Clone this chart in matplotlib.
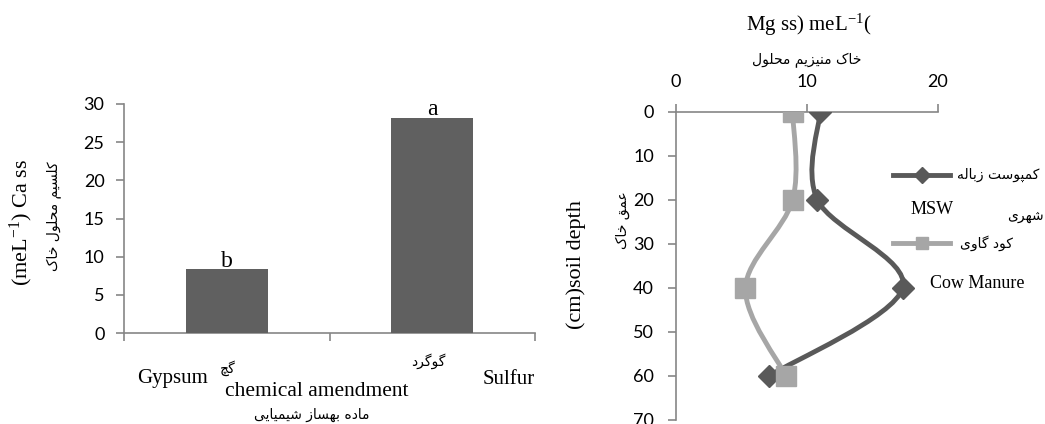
import matplotlib
matplotlib.use("Agg")
import matplotlib.pyplot as plt
from matplotlib.path import Path
from matplotlib.patches import PathPatch
from matplotlib.lines import Line2D

# data
amendments = ["Gypsum", "Sulfur"]
ca_ss = [8.4, 28.2]
letters = ["b", "a"]

depth = [0, 20, 40, 60]
mg_msw = [11.0, 10.8, 17.3, 7.1]
mg_cow = [8.9, 8.9, 5.3, 8.4]

plt.rcParams["mathtext.fontset"] = "custom"
plt.rcParams["mathtext.rm"] = "Liberation Serif"
plt.rcParams["mathtext.it"] = "Liberation Serif"

# persian shaping (matplotlib has no bidi / joining)
FORMS = {
    'ا': ('\uFE8D', '\uFE8E', None, None),
    'ب': ('\uFE8F', '\uFE90', '\uFE91', '\uFE92'),
    'پ': ('\uFB56', '\uFB57', '\uFB58', '\uFB59'),
    'ت': ('\uFE95', '\uFE96', '\uFE97', '\uFE98'),
    'چ': ('\uFB7A', '\uFB7B', '\uFB7C', '\uFB7D'),
    'ح': ('\uFEA1', '\uFEA2', '\uFEA3', '\uFEA4'),
    'خ': ('\uFEA5', '\uFEA6', '\uFEA7', '\uFEA8'),
    'د': ('\uFEA9', '\uFEAA', None, None),
    'ر': ('\uFEAD', '\uFEAE', None, None),
    'ز': ('\uFEAF', '\uFEB0', None, None),
    'س': ('\uFEB1', '\uFEB2', '\uFEB3', '\uFEB4'),
    'ش': ('\uFEB5', '\uFEB6', '\uFEB7', '\uFEB8'),
    'ع': ('\uFEC9', '\uFECA', '\uFECB', '\uFECC'),
    'ق': ('\uFED5', '\uFED6', '\uFED7', '\uFED8'),
    'ک': ('\uFB8E', '\uFB8F', '\uFB90', '\uFB91'),
    'گ': ('\uFB92', '\uFB93', '\uFB94', '\uFB95'),
    'ل': ('\uFEDD', '\uFEDE', '\uFEDF', '\uFEE0'),
    'م': ('\uFEE1', '\uFEE2', '\uFEE3', '\uFEE4'),
    'ن': ('\uFEE5', '\uFEE6', '\uFEE7', '\uFEE8'),
    'و': ('\uFEED', '\uFEEE', None, None),
    'ه': ('\uFEE9', '\uFEEA', '\uFEEB', '\uFEEC'),
    'ی': ('\uFBFC', '\uFBFD', '\uFBFE', '\uFBFF'),
}


def fa(s):
    out = []
    for i, ch in enumerate(s):
        if ch not in FORMS:
            out.append(ch)
            continue
        f = FORMS[ch]
        prev = s[i - 1] if i > 0 else ''
        nxt = s[i + 1] if i + 1 < len(s) else ''
        jp = prev in FORMS and FORMS[prev][2] is not None
        jn = nxt in FORMS and f[2] is not None
        if jp and jn:
            out.append(f[3])
        elif jp:
            out.append(f[1])
        elif jn:
            out.append(f[2])
        else:
            out.append(f[0])
    return ''.join(reversed(out))


def smooth_path(xs, ys):
    # excel style smoothed line (catmull-rom as cubic bezier)
    pts = list(zip(xs, ys))
    n = len(pts)
    verts = [pts[0]]
    codes = [Path.MOVETO]
    for i in range(n - 1):
        p0 = pts[i - 1] if i > 0 else pts[i]
        p1 = pts[i]
        p2 = pts[i + 1]
        p3 = pts[i + 2] if i + 2 < n else pts[i + 1]
        c1 = (p1[0] + (p2[0] - p0[0]) / 6, p1[1] + (p2[1] - p0[1]) / 6)
        c2 = (p2[0] - (p3[0] - p1[0]) / 6, p2[1] - (p3[1] - p1[1]) / 6)
        verts += [c1, c2, p2]
        codes += [Path.CURVE4] * 3
    return Path(verts, codes)


W, H = 1045, 424
serif = "Liberation Serif"
sans = "Lato"
pers = ["DejaVu Sans"]
grid_c = "#868686"
dark = "#595959"
light = "#a6a6a6"

fig = plt.figure(figsize=(W / 100, H / 100), dpi=100)


def ftext(x, y, s, **kw):
    fig.text(x / W, 1 - y / H, s, ha="center", va="center", **kw)


# ---- left: bar chart
ax1 = fig.add_axes([124 / W, 1 - 333 / H, 411 / W, 229 / H])
ax1.bar(range(len(amendments)), ca_ss, width=0.4, color="#606060", zorder=3)
for i, v in enumerate(ca_ss):
    ax1.text(i, v + 0.3, letters[i], ha="center", va="baseline",
             fontsize=17, family=serif)
ax1.set_xlim(-0.5, 1.5)
ax1.set_ylim(0, 30)
ax1.set_yticks(range(0, 31, 5))
ax1.set_xticks([-0.5, 0.5, 1.5])
ax1.set_xticklabels([])
for s in ["top", "right"]:
    ax1.spines[s].set_visible(False)
for s in ["left", "bottom"]:
    ax1.spines[s].set_color(grid_c)
    ax1.spines[s].set_linewidth(1.2)
ax1.tick_params(color=grid_c, width=1.2, length=6)
ax1.tick_params(axis="y", pad=8, labelsize=13)
for lab in ax1.get_yticklabels():
    lab.set_family(sans)

ftext(21, 222, "(meL$^{-1}$) Ca ss", rotation=90, fontsize=16, family=serif)
ftext(55, 216, fa("کلسیم محلول خاک"), rotation=90, fontsize=10, family=pers)
ftext(172, 379, "Gypsum", fontsize=15, family=serif)
ftext(228, 368, fa("گچ"), fontsize=10, family=pers)
ftext(428, 361, fa("گوگرد"), fontsize=10, family=pers)
ftext(509, 379, "Sulfur", fontsize=15, family=serif)
ftext(317, 391, "chemical amendment", fontsize=15.5, family=serif)
ftext(312, 415, fa("ماده بهساز شیمیایی"), fontsize=10, family=pers)

# ---- right: depth profile
ax2 = fig.add_axes([676 / W, 1 - 420 / H, 262 / W, 308 / H])
ax2.add_patch(PathPatch(smooth_path(mg_msw, depth), fill=False,
                        edgecolor=dark, lw=3.5, zorder=3))
ax2.add_patch(PathPatch(smooth_path(mg_cow, depth), fill=False,
                        edgecolor=light, lw=3.5, zorder=3))
ax2.plot(mg_msw, depth, ls="none", marker="D", ms=11, color=dark, zorder=4)
ax2.plot(mg_cow, depth, ls="none", marker="s", ms=14, color=light, zorder=4)
ax2.set_xlim(0, 20)
ax2.set_ylim(70, 0)
ax2.set_xticks([0, 10, 20])
ax2.set_yticks(range(0, 71, 10))
ax2.xaxis.tick_top()
for s in ["bottom", "right"]:
    ax2.spines[s].set_visible(False)
for s in ["left", "top"]:
    ax2.spines[s].set_color(grid_c)
    ax2.spines[s].set_linewidth(1.2)
ax2.tick_params(color=grid_c, width=1.2, length=6, labelsize=13, pad=10)
for lab in ax2.get_yticklabels() + ax2.get_xticklabels():
    lab.set_family(sans)

ftext(809, 25, "Mg ss) meL$^{-1}$(", fontsize=15, family=serif)
ftext(807, 60, fa("خاک منیزیم محلول"), fontsize=10, family=pers)
ftext(576, 265, "(cm)soil depth", rotation=90, fontsize=16, family=serif)
ftext(623, 220, fa("عمق خاک"), rotation=90, fontsize=10, family=pers)

# legend drawn by hand
fig.add_artist(Line2D([893 / W, 950 / W], [1 - 175 / H] * 2, color=dark, lw=3.5))
fig.add_artist(Line2D([921.5 / W], [1 - 175 / H], marker="D", ms=8, color=dark))
ftext(998, 175, fa("کمپوست زباله"), fontsize=10, family=pers)
ftext(932, 209, "MSW", fontsize=13, family=serif)
ftext(1025, 216, fa("شهری"), fontsize=10, family=pers)
fig.add_artist(Line2D([893 / W, 950 / W], [1 - 243 / H] * 2, color=light, lw=3.5))
fig.add_artist(Line2D([921.5 / W], [1 - 243 / H], marker="s", ms=9, color=light))
ftext(986, 243, fa("کود گاوی"), fontsize=10, family=pers)
ftext(977, 283, "Cow Manure", fontsize=13, family=serif)

plt.savefig("out.png", dpi=100)
